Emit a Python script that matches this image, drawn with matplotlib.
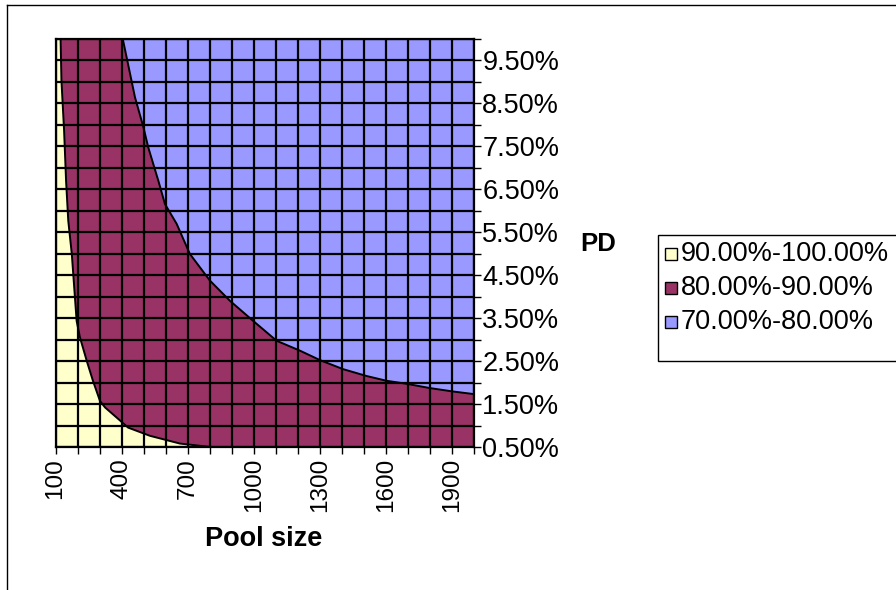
import matplotlib
matplotlib.use("Agg")
import matplotlib.pyplot as plt
from matplotlib.patches import Rectangle, Polygon
from matplotlib.lines import Line2D

plt.rcParams['font.family'] = ['Liberation Sans', 'DejaVu Sans']

# Axes categories
pool_sizes = list(range(100, 2001, 100))
pd_values = [0.5 + 0.5 * i for i in range(20)]          # 0.50% .. 10.00%
pool_labels = [100, 400, 700, 1000, 1300, 1600, 1900]

# Contour boundary between 90-100% and 80-90% bands (pool size, PD %)
b90_pool = [123, 127, 139, 148, 158, 174, 185, 196, 211, 242, 270, 302, 325, 430, 529, 665, 805]
b90_pd = [10.0, 9.02, 7.86, 6.69, 5.76, 4.99, 4.21, 3.43, 3.05, 2.50, 2.04, 1.57, 1.42, 0.95, 0.76, 0.58, 0.50]

# Contour boundary between 80-90% and 70-80% bands
b80_pool = [405, 461, 499, 521, 567, 597, 650, 710, 801, 892, 998, 1104, 1210, 1301, 1406, 1513, 1603, 1694, 1800, 1906, 2000]
b80_pd = [10.0, 8.63, 7.94, 7.47, 6.69, 6.15, 5.69, 4.99, 4.37, 3.90, 3.43, 2.97, 2.74, 2.52, 2.31, 2.15, 2.04, 1.97, 1.87, 1.79, 1.73]

band_labels = ["90.00%-100.00%", "80.00%-90.00%", "70.00%-80.00%"]
band_colors = ["#FFFFCC", "#993366", "#9999FF"]

FS = 19.5
FSX = 17.5

W, H = 896, 590
fig = plt.figure(figsize=(W / 100, H / 100), dpi=100)
fig.patch.set_facecolor("white")

left, right, top, bottom = 55.5, 474, 38.5, 447
ax = fig.add_axes([left / W, 1 - bottom / H, (right - left) / W, (bottom - top) / H])
ax.set_xlim(pool_sizes[0], pool_sizes[-1])
ax.set_ylim(pd_values[0], pd_values[-1])

xmin, xmax = pool_sizes[0], pool_sizes[-1]
ymin, ymax = pd_values[0], pd_values[-1]

# 70-80% band background
ax.add_patch(Rectangle((xmin, ymin), xmax - xmin, ymax - ymin, facecolor=band_colors[2],
                       edgecolor="none", zorder=1))
# 80-90% band
pts80 = [(xmin, ymin), (xmax, ymin)] + list(zip(b80_pool[::-1], b80_pd[::-1])) + [(xmin, ymax)]
ax.add_patch(Polygon(pts80, closed=True, facecolor=band_colors[1], edgecolor="none", zorder=1.1))
# 90-100% band
pts90 = [(xmin, ymax)] + list(zip(b90_pool, b90_pd)) + [(xmin, ymin)]
ax.add_patch(Polygon(pts90, closed=True, facecolor=band_colors[0], edgecolor="none", zorder=1.2))

ax.plot(b80_pool, b80_pd, color="black", lw=1.4, zorder=1.5)
ax.plot(b90_pool, b90_pd, color="black", lw=1.4, zorder=1.5)

# ticks and grid
ax.set_xticks(pool_sizes)
ax.set_xticklabels([str(p) if p in pool_labels else "" for p in pool_sizes], rotation=90,
                   fontsize=FSX)
ax.set_yticks(pd_values)
ax.set_yticklabels([f"{v:.2f}%" if abs((v - 0.5) % 1.0) < 1e-9 else "" for v in pd_values],
                   fontsize=FS)
ax.yaxis.tick_right()
ax.tick_params(axis="x", direction="out", length=5, width=1, pad=3, colors="black")
ax.tick_params(axis="y", direction="out", length=5, width=1, pad=1, colors="black")
ax.grid(True, color="black", lw=1.6)
ax.set_axisbelow(False)
for s in ax.spines.values():
    s.set_color("black")
    s.set_linewidth(1.6)
    s.set_zorder(3)

# axis titles
fig.text(264 / W, 1 - 539 / H, "Pool size", ha="center", va="center", fontsize=FS,
         fontweight="bold")
fig.text(598 / W, 1 - 244 / H, "PD", ha="center", va="center", fontsize=18.5, fontweight="bold")

# legend
lg_l, lg_t, lg_b = 658, 235, 361
fig.patches.append(Rectangle((lg_l / W, 1 - lg_b / H), (W + 10 - lg_l) / W, (lg_b - lg_t) / H,
                             transform=fig.transFigure, facecolor="white", edgecolor="black",
                             lw=1, clip_on=False))
rows = [254, 288, 322]
for lab, col, ry in zip(band_labels, band_colors, rows):
    fig.patches.append(Rectangle((665 / W, 1 - (ry + 6) / H), 12 / W, 12 / H,
                                 transform=fig.transFigure, facecolor=col, edgecolor="black",
                                 lw=1))
    fig.text(681 / W, 1 - ry / H, lab, ha="left", va="center", fontsize=FS)

# outer chart frame (cropped)
fig.add_artist(Line2D([7 / W, 1], [1 - 5 / H, 1 - 5 / H], transform=fig.transFigure,
                      color="black", lw=1))
fig.add_artist(Line2D([7 / W, 7 / W], [1 - 5 / H, 0], transform=fig.transFigure,
                      color="black", lw=1))

fig.savefig("out.png", dpi=100)
